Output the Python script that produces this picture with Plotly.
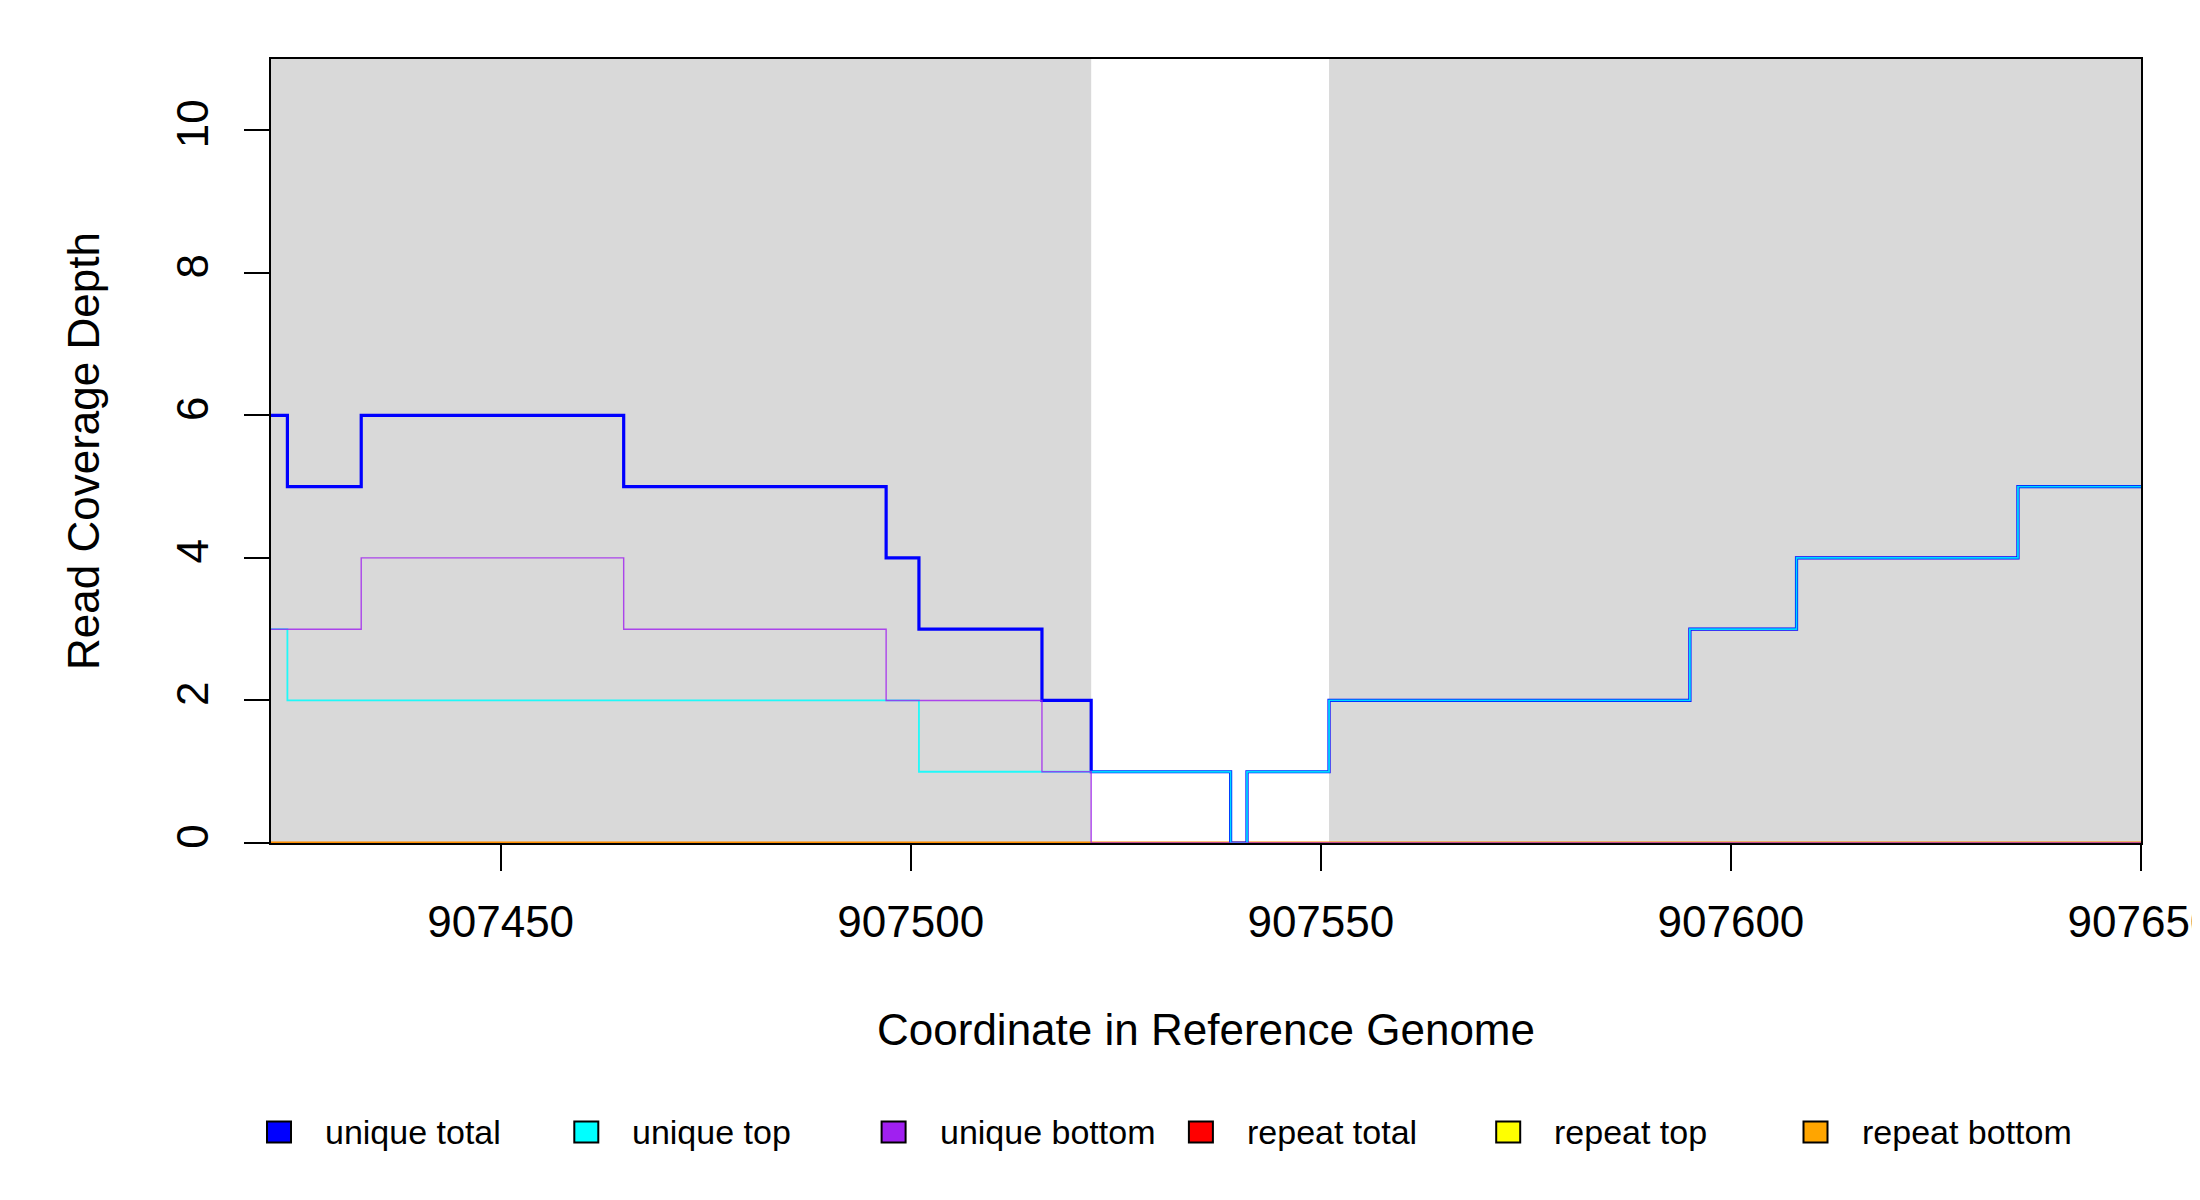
import plotly.graph_objects as go

# step coverage, each value holds until the next position
unique_total_pos = [907422, 907424, 907433, 907465, 907497, 907501, 907516, 907522,
                    907539, 907541, 907551, 907595, 907608, 907635, 907650]
unique_total_val = [6, 5, 6, 5, 4, 3, 2, 1, 0, 1, 2, 3, 4, 5, 5]

unique_top_pos = [907422, 907424, 907501, 907539, 907541, 907551, 907595, 907608, 907635, 907650]
unique_top_val = [3, 2, 1, 0, 1, 2, 3, 4, 5, 5]

unique_bottom_pos = [907422, 907433, 907465, 907497, 907516, 907522, 907650]
unique_bottom_val = [3, 4, 3, 2, 1, 0, 0]

repeat_pos = [907422, 907650]
repeat_total_val = [0, 0]
repeat_top_val = [0, 0]
repeat_bottom_val = [0, 0]

# shaded intervals
shaded_regions = [(907422, 907522), (907551, 907650)]

x_ticks = [907450, 907500, 907550, 907600, 907650]
y_ticks = [0, 2, 4, 6, 8, 10]

legend_names = ["unique total", "unique top", "unique bottom",
                "repeat total", "repeat top", "repeat bottom"]
legend_colors = ["#0000ff", "#00ffff", "#a020f0", "#ff0000", "#ffff00", "#ffa500"]

FONT = "Liberation Sans, Arial, sans-serif"

fig = go.Figure()

for x0, x1 in shaded_regions:
    fig.add_shape(type="rect", x0=x0, x1=x1, y0=0, y1=11, xref="x", yref="y",
                  fillcolor="#d9d9d9", line_width=0, layer="below")

series = [
    (repeat_pos, repeat_top_val, "#ffff00", 2.5, 1),
    (repeat_pos, repeat_total_val, "#ff0000", 2.5, 0.8),
    (repeat_pos, repeat_bottom_val, "#ffa500", 2.5, 0.8),
    (unique_total_pos, unique_total_val, "#0000ff", 3.2, 1),
    (unique_top_pos, unique_top_val, "#00ffff", 1.8, 0.85),
    (unique_bottom_pos, unique_bottom_val, "#a020f0", 1.4, 0.8),
]
for xs, ys, col, w, op in series:
    fig.add_trace(go.Scatter(x=xs, y=ys, mode="lines", line_shape="hv",
                             line=dict(color=col, width=w), opacity=op,
                             showlegend=False, hoverinfo="skip", cliponaxis=False))

# legend: boxes and labels in a row under the x-axis title
# plot area spans 1870 x 784 px, so convert pixel offsets to paper units
for i, (name, col) in enumerate(zip(legend_names, legend_colors)):
    cx = (8 + 307.3 * i) / 1870
    cy = -289 / 784
    fig.add_shape(type="rect", xref="paper", yref="paper",
                  x0=cx - 12 / 1870, x1=cx + 12 / 1870,
                  y0=cy - 10.5 / 784, y1=cy + 10.5 / 784,
                  fillcolor=col, line=dict(color="black", width=2))
    fig.add_annotation(text=name, xref="paper", yref="paper",
                       x=(52 + 307.3 * i) / 1870, y=cy,
                       xanchor="left", yanchor="middle", showarrow=False,
                       font=dict(family=FONT, size=34, color="black"))

fig.update_layout(
    width=2200, height=1200,
    paper_bgcolor="white", plot_bgcolor="white",
    margin=dict(l=263, r=67, t=51, b=365, autoexpand=False),
    font=dict(family=FONT, size=44, color="black"),
    showlegend=False,
)

fig.update_xaxes(range=[907422, 907650], tickvals=x_ticks, ticktext=[str(v) for v in x_ticks],
                 ticks="outside", ticklen=26, tickwidth=2, tickcolor="black",
                 showgrid=False, zeroline=False, showline=True, mirror=True,
                 linecolor="black", linewidth=1.5, ticklabelstandoff=13,
                 ticklabeloverflow="allow", automargin=False,
                 title=dict(text="Coordinate in Reference Genome", standoff=70,
                            font=dict(family=FONT, size=44, color="black")))

fig.update_yaxes(range=[0, 11], tickvals=y_ticks, tickangle=-90,
                 ticks="outside", ticklen=25, tickwidth=2, tickcolor="black",
                 showgrid=False, zeroline=False, showline=True, mirror=True,
                 linecolor="black", linewidth=1.5, ticklabelstandoff=19,
                 automargin=False,
                 title=dict(text="Read Coverage Depth", standoff=54,
                            font=dict(family=FONT, size=44, color="black")))

fig.write_html("out.html")
